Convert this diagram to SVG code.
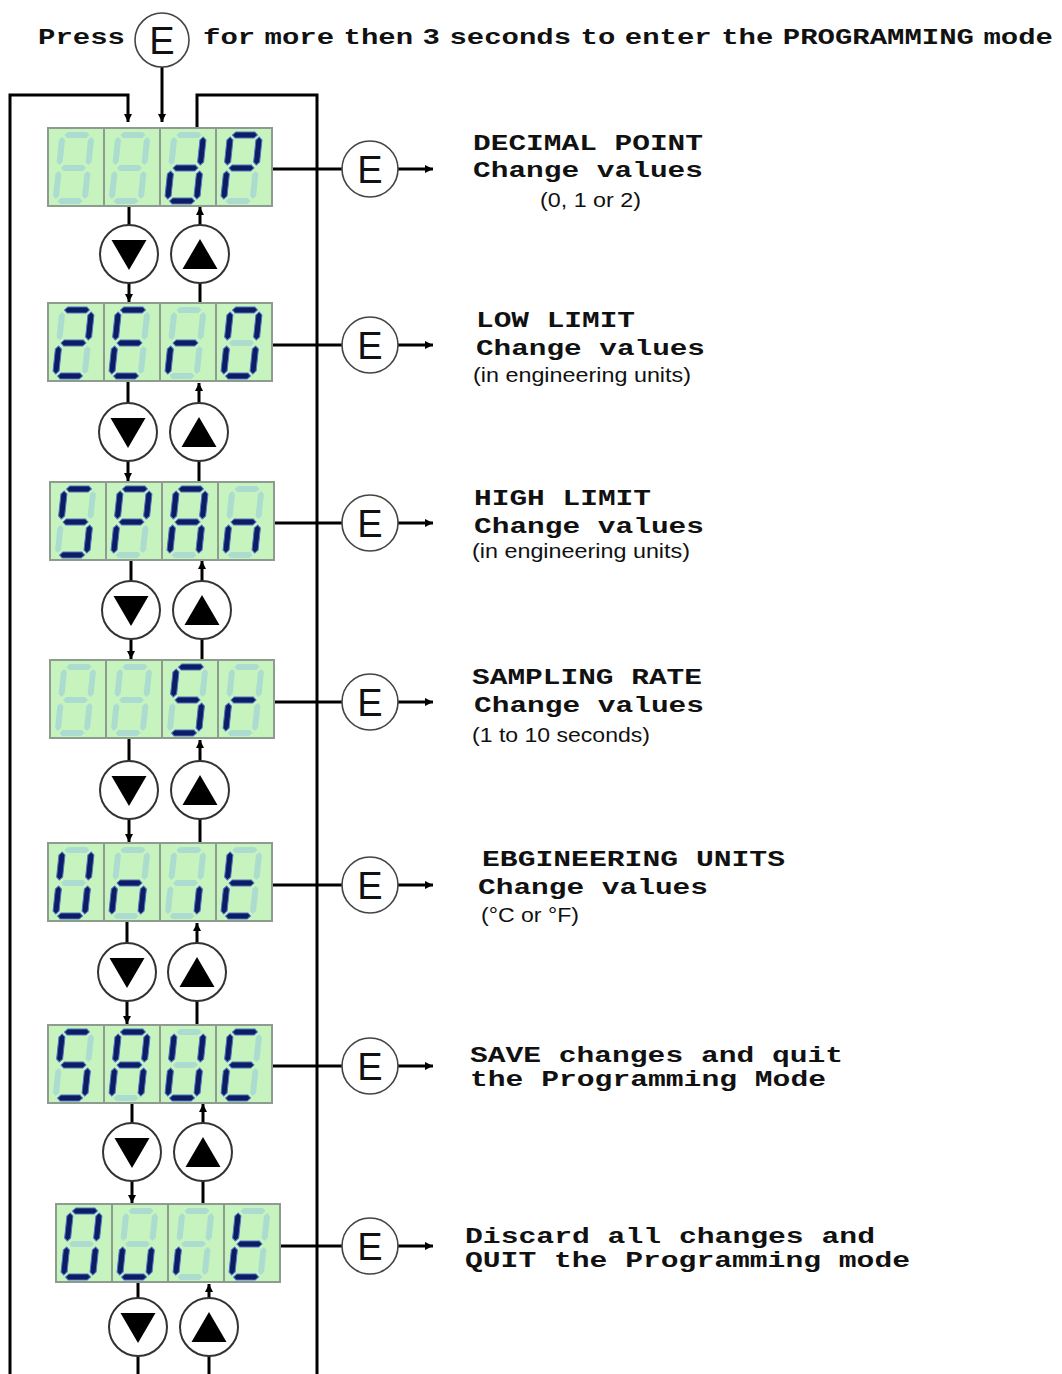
<svg xmlns="http://www.w3.org/2000/svg" xmlns:xlink="http://www.w3.org/1999/xlink" width="1062" height="1374" viewBox="0 0 1062 1374">
<style>
.b{font-family:'Liberation Mono','DejaVu Sans Mono',monospace;font-weight:bold;font-size:22px;fill:#111}
.r{font-family:'Liberation Sans',Arial,sans-serif;font-size:21px;fill:#111}
.et{font-family:'Liberation Sans',Arial,sans-serif;font-size:38px;fill:#111;text-anchor:middle}
.cell{fill:#c7f3bf;stroke:#8e9c90;stroke-width:2}
.off{fill:#acdcd0}
.on{fill:#0e1d63;stroke:#4f76c6;stroke-width:1}
.ln{stroke:#000;stroke-width:3;fill:none}
.btn{fill:#fff;stroke:#333;stroke-width:2}
.ebtn{fill:#fff;stroke:#444;stroke-width:1.6}
</style>
<defs>
<marker id="ah" viewBox="0 0 10 10" refX="10" refY="5" markerWidth="9" markerHeight="8" orient="auto" markerUnits="userSpaceOnUse"><path d="M0,0 L10,5 L0,10z" fill="#000"/></marker>
<path id="sa" d="M13,-33 l3,-3 h19 l3,3 l-3,3 h-19z"/>
<path id="sg" d="M13,0 l3,-3 h19 l3,3 l-3,3 h-19z"/>
<path id="sd" d="M13,33 l3,-3 h19 l3,3 l-3,3 h-19z"/>
<path id="sf" d="M11,-31 l3,3 v22 l-3,3 l-3,-3 v-22z"/>
<path id="sb" d="M40,-31 l3,3 v22 l-3,3 l-3,-3 v-22z"/>
<path id="se" d="M11,3 l3,3 v22 l-3,3 l-3,-3 v-22z"/>
<path id="sc" d="M40,3 l3,3 v22 l-3,3 l-3,-3 v-22z"/>
<g id="blank"><use href="#sa" class="off"/><use href="#sb" class="off"/><use href="#sc" class="off"/><use href="#sd" class="off"/><use href="#se" class="off"/><use href="#sf" class="off"/><use href="#sg" class="off"/></g>
<g id="ch-d"><use href="#blank"/><use href="#sb" class="on"/><use href="#sc" class="on"/><use href="#sd" class="on"/><use href="#se" class="on"/><use href="#sg" class="on"/></g>
<g id="ch-P"><use href="#blank"/><use href="#sa" class="on"/><use href="#sb" class="on"/><use href="#sf" class="on"/><use href="#sg" class="on"/><use href="#se" class="on"/></g>
<g id="ch-2"><use href="#blank"/><use href="#sa" class="on"/><use href="#sb" class="on"/><use href="#sg" class="on"/><use href="#se" class="on"/><use href="#sd" class="on"/></g>
<g id="ch-E"><use href="#blank"/><use href="#sa" class="on"/><use href="#sf" class="on"/><use href="#sg" class="on"/><use href="#se" class="on"/><use href="#sd" class="on"/></g>
<g id="ch-r"><use href="#blank"/><use href="#sg" class="on"/><use href="#se" class="on"/></g>
<g id="ch-0"><use href="#blank"/><use href="#sa" class="on"/><use href="#sb" class="on"/><use href="#sc" class="on"/><use href="#sd" class="on"/><use href="#se" class="on"/><use href="#sf" class="on"/></g>
<g id="ch-S"><use href="#blank"/><use href="#sa" class="on"/><use href="#sf" class="on"/><use href="#sg" class="on"/><use href="#sc" class="on"/><use href="#sd" class="on"/></g>
<g id="ch-A"><use href="#blank"/><use href="#sa" class="on"/><use href="#sb" class="on"/><use href="#sc" class="on"/><use href="#se" class="on"/><use href="#sf" class="on"/><use href="#sg" class="on"/></g>
<g id="ch-n"><use href="#blank"/><use href="#sg" class="on"/><use href="#se" class="on"/><use href="#sc" class="on"/></g>
<g id="ch-U"><use href="#blank"/><use href="#sb" class="on"/><use href="#sc" class="on"/><use href="#sd" class="on"/><use href="#se" class="on"/><use href="#sf" class="on"/></g>
<g id="ch-i"><use href="#blank"/><use href="#sc" class="on"/></g>
<g id="ch-t"><use href="#blank"/><use href="#sf" class="on"/><use href="#sg" class="on"/><use href="#se" class="on"/><use href="#sd" class="on"/></g>
<g id="ch-u"><use href="#blank"/><use href="#sc" class="on"/><use href="#sd" class="on"/><use href="#se" class="on"/></g>
<g id="ch-I"><use href="#blank"/><use href="#se" class="on"/></g>
<g id="cells"><rect class="cell" x="0" y="0" width="56" height="78"/><rect class="cell" x="56" y="0" width="56" height="78"/><rect class="cell" x="112" y="0" width="56" height="78"/><rect class="cell" x="168" y="0" width="56" height="78"/></g>
</defs>
<rect width="1062" height="1374" fill="#fff"/>

<g id="connectors">
<line class="ln" x1="162" y1="67" x2="162" y2="122" marker-end="url(#ah)"/>
<polyline class="ln" points="10,1374 10,95 128,95 128,122" marker-end="url(#ah)"/>
<polyline class="ln" points="197,127 197,95 317,95 317,1374"/>
<line class="ln" x1="129" y1="206" x2="129" y2="225"/><line class="ln" x1="129" y1="283" x2="129" y2="302" marker-end="url(#ah)"/>
<line class="ln" x1="200" y1="303" x2="200" y2="283"/><line class="ln" x1="200" y1="225" x2="200" y2="207" marker-end="url(#ah)"/>
<line class="ln" x1="128" y1="382" x2="128" y2="403"/><line class="ln" x1="128" y1="461" x2="128" y2="481" marker-end="url(#ah)"/>
<line class="ln" x1="199" y1="482" x2="199" y2="461"/><line class="ln" x1="199" y1="403" x2="199" y2="383" marker-end="url(#ah)"/>
<line class="ln" x1="131" y1="560" x2="131" y2="581"/><line class="ln" x1="131" y1="639" x2="131" y2="659" marker-end="url(#ah)"/>
<line class="ln" x1="202" y1="660" x2="202" y2="639"/><line class="ln" x1="202" y1="581" x2="202" y2="561" marker-end="url(#ah)"/>
<line class="ln" x1="129" y1="739" x2="129" y2="761"/><line class="ln" x1="129" y1="819" x2="129" y2="842" marker-end="url(#ah)"/>
<line class="ln" x1="200" y1="843" x2="200" y2="819"/><line class="ln" x1="200" y1="761" x2="200" y2="740" marker-end="url(#ah)"/>
<line class="ln" x1="127" y1="922" x2="127" y2="943"/><line class="ln" x1="127" y1="1001" x2="127" y2="1024" marker-end="url(#ah)"/>
<line class="ln" x1="197" y1="1025" x2="197" y2="1001"/><line class="ln" x1="197" y1="943" x2="197" y2="923" marker-end="url(#ah)"/>
<line class="ln" x1="132" y1="1103" x2="132" y2="1123"/><line class="ln" x1="132" y1="1181" x2="132" y2="1203" marker-end="url(#ah)"/>
<line class="ln" x1="203" y1="1204" x2="203" y2="1181"/><line class="ln" x1="203" y1="1123" x2="203" y2="1104" marker-end="url(#ah)"/>
<line class="ln" x1="138" y1="1283" x2="138" y2="1298"/><line class="ln" x1="138" y1="1356" x2="138" y2="1374"/>
<line class="ln" x1="209" y1="1374" x2="209" y2="1356"/><line class="ln" x1="209" y1="1298" x2="209" y2="1284" marker-end="url(#ah)"/>
<line class="ln" x1="273" y1="169" x2="342" y2="169"/><line class="ln" x1="398" y1="169" x2="433" y2="169" marker-end="url(#ah)"/>
<line class="ln" x1="273" y1="345" x2="342" y2="345"/><line class="ln" x1="398" y1="345" x2="433" y2="345" marker-end="url(#ah)"/>
<line class="ln" x1="273" y1="523" x2="342" y2="523"/><line class="ln" x1="398" y1="523" x2="433" y2="523" marker-end="url(#ah)"/>
<line class="ln" x1="272" y1="702" x2="342" y2="702"/><line class="ln" x1="398" y1="702" x2="433" y2="702" marker-end="url(#ah)"/>
<line class="ln" x1="273" y1="885" x2="342" y2="885"/><line class="ln" x1="398" y1="885" x2="433" y2="885" marker-end="url(#ah)"/>
<line class="ln" x1="273" y1="1066" x2="342" y2="1066"/><line class="ln" x1="398" y1="1066" x2="433" y2="1066" marker-end="url(#ah)"/>
<line class="ln" x1="280" y1="1246" x2="342" y2="1246"/><line class="ln" x1="398" y1="1246" x2="433" y2="1246" marker-end="url(#ah)"/>
</g>

<g id="title">
<text class="b" x="38" y="44" font-size="21" textLength="87" lengthAdjust="spacingAndGlyphs">Press</text>
<text class="b" x="203" y="44" font-size="21" word-spacing="-6" textLength="850" lengthAdjust="spacingAndGlyphs">for more then 3 seconds to enter the PROGRAMMING mode</text>
</g>
<g id="btn-start"><circle class="ebtn" cx="162" cy="40" r="27"/><text class="et" x="162" y="54">E</text></g>

<g id="disp-dP" transform="translate(48,128)"><use href="#cells"/>
<use href="#blank" transform="translate(0,40) skewX(-6)"/><use href="#blank" transform="translate(56,40) skewX(-6)"/><use href="#ch-d" transform="translate(112,40) skewX(-6)"/><use href="#ch-P" transform="translate(168,40) skewX(-6)"/></g>
<g id="disp-zero" transform="translate(48,303)"><use href="#cells"/>
<use href="#ch-2" transform="translate(0,40) skewX(-6)"/><use href="#ch-E" transform="translate(56,40) skewX(-6)"/><use href="#ch-r" transform="translate(112,40) skewX(-6)"/><use href="#ch-0" transform="translate(168,40) skewX(-6)"/></g>
<g id="disp-span" transform="translate(50,482)"><use href="#cells"/>
<use href="#ch-S" transform="translate(0,40) skewX(-6)"/><use href="#ch-P" transform="translate(56,40) skewX(-6)"/><use href="#ch-A" transform="translate(112,40) skewX(-6)"/><use href="#ch-n" transform="translate(168,40) skewX(-6)"/></g>
<g id="disp-sr" transform="translate(50,660)"><use href="#cells"/>
<use href="#blank" transform="translate(0,40) skewX(-6)"/><use href="#blank" transform="translate(56,40) skewX(-6)"/><use href="#ch-S" transform="translate(112,40) skewX(-6)"/><use href="#ch-r" transform="translate(168,40) skewX(-6)"/></g>
<g id="disp-unit" transform="translate(48,843)"><use href="#cells"/>
<use href="#ch-U" transform="translate(0,40) skewX(-6)"/><use href="#ch-n" transform="translate(56,40) skewX(-6)"/><use href="#ch-i" transform="translate(112,40) skewX(-6)"/><use href="#ch-t" transform="translate(168,40) skewX(-6)"/></g>
<g id="disp-save" transform="translate(48,1025)"><use href="#cells"/>
<use href="#ch-S" transform="translate(0,40) skewX(-6)"/><use href="#ch-A" transform="translate(56,40) skewX(-6)"/><use href="#ch-U" transform="translate(112,40) skewX(-6)"/><use href="#ch-E" transform="translate(168,40) skewX(-6)"/></g>
<g id="disp-quit" transform="translate(56,1204)"><use href="#cells"/>
<use href="#ch-0" transform="translate(0,40) skewX(-6)"/><use href="#ch-u" transform="translate(56,40) skewX(-6)"/><use href="#ch-I" transform="translate(112,40) skewX(-6)"/><use href="#ch-t" transform="translate(168,40) skewX(-6)"/></g>

<g id="nav-1"><circle class="btn" cx="129" cy="254" r="29"/><path d="M111.5,240 h35 l-17.5,30z"/><circle class="btn" cx="200" cy="254" r="29"/><path d="M200,239 l17.5,30 h-35z"/></g>
<g id="nav-2"><circle class="btn" cx="128" cy="432" r="29"/><path d="M110.5,418 h35 l-17.5,30z"/><circle class="btn" cx="199" cy="432" r="29"/><path d="M199,417 l17.5,30 h-35z"/></g>
<g id="nav-3"><circle class="btn" cx="131" cy="610" r="29"/><path d="M113.5,596 h35 l-17.5,30z"/><circle class="btn" cx="202" cy="610" r="29"/><path d="M202,595 l17.5,30 h-35z"/></g>
<g id="nav-4"><circle class="btn" cx="129" cy="790" r="29"/><path d="M111.5,776 h35 l-17.5,30z"/><circle class="btn" cx="200" cy="790" r="29"/><path d="M200,775 l17.5,30 h-35z"/></g>
<g id="nav-5"><circle class="btn" cx="127" cy="972" r="29"/><path d="M109.5,958 h35 l-17.5,30z"/><circle class="btn" cx="197" cy="972" r="29"/><path d="M197,957 l17.5,30 h-35z"/></g>
<g id="nav-6"><circle class="btn" cx="132" cy="1152" r="29"/><path d="M114.5,1138 h35 l-17.5,30z"/><circle class="btn" cx="203" cy="1152" r="29"/><path d="M203,1137 l17.5,30 h-35z"/></g>
<g id="nav-7"><circle class="btn" cx="138" cy="1327" r="29"/><path d="M120.5,1313 h35 l-17.5,30z"/><circle class="btn" cx="209" cy="1327" r="29"/><path d="M209,1312 l17.5,30 h-35z"/></g>

<g id="e-1"><circle class="ebtn" cx="370" cy="169" r="28"/><text class="et" x="370" y="183">E</text></g>
<g id="e-2"><circle class="ebtn" cx="370" cy="345" r="28"/><text class="et" x="370" y="359">E</text></g>
<g id="e-3"><circle class="ebtn" cx="370" cy="523" r="28"/><text class="et" x="370" y="537">E</text></g>
<g id="e-4"><circle class="ebtn" cx="370" cy="702" r="28"/><text class="et" x="370" y="716">E</text></g>
<g id="e-5"><circle class="ebtn" cx="370" cy="885" r="28"/><text class="et" x="370" y="899">E</text></g>
<g id="e-6"><circle class="ebtn" cx="370" cy="1066" r="28"/><text class="et" x="370" y="1080">E</text></g>
<g id="e-7"><circle class="ebtn" cx="370" cy="1246" r="28"/><text class="et" x="370" y="1260">E</text></g>

<g id="label-1">
<text class="b" x="473" y="150" textLength="230" lengthAdjust="spacingAndGlyphs">DECIMAL POINT</text>
<text class="b" x="473" y="177" textLength="230" lengthAdjust="spacingAndGlyphs">Change values</text>
<text class="r" x="540" y="207" textLength="101" lengthAdjust="spacingAndGlyphs">(0, 1 or 2)</text>
</g>
<g id="label-2">
<text class="b" x="476" y="327" textLength="159" lengthAdjust="spacingAndGlyphs">LOW LIMIT</text>
<text class="b" x="476" y="355" textLength="229" lengthAdjust="spacingAndGlyphs">Change values</text>
<text class="r" x="473" y="382" textLength="218" lengthAdjust="spacingAndGlyphs">(in engineering units)</text>
</g>
<g id="label-3">
<text class="b" x="474" y="505" textLength="177" lengthAdjust="spacingAndGlyphs">HIGH LIMIT</text>
<text class="b" x="474" y="533" textLength="230" lengthAdjust="spacingAndGlyphs">Change values</text>
<text class="r" x="472" y="558" textLength="218" lengthAdjust="spacingAndGlyphs">(in engineering units)</text>
</g>
<g id="label-4">
<text class="b" x="472" y="684" textLength="230" lengthAdjust="spacingAndGlyphs">SAMPLING RATE</text>
<text class="b" x="474" y="712" textLength="230" lengthAdjust="spacingAndGlyphs">Change values</text>
<text class="r" x="472" y="742" textLength="178" lengthAdjust="spacingAndGlyphs">(1 to 10 seconds)</text>
</g>
<g id="label-5">
<text class="b" x="482" y="866" textLength="303" lengthAdjust="spacingAndGlyphs">EBGINEERING UNITS</text>
<text class="b" x="478" y="894" textLength="230" lengthAdjust="spacingAndGlyphs">Change values</text>
<text class="r" x="481" y="922" textLength="98" lengthAdjust="spacingAndGlyphs">(°C or °F)</text>
</g>
<g id="label-6">
<text class="b" x="470" y="1062" textLength="373" lengthAdjust="spacingAndGlyphs">SAVE changes and quit</text>
<text class="b" x="470" y="1086" textLength="356" lengthAdjust="spacingAndGlyphs">the Programming Mode</text>
</g>
<g id="label-7">
<text class="b" x="465" y="1243" textLength="410" lengthAdjust="spacingAndGlyphs">Discard all changes and</text>
<text class="b" x="465" y="1267" textLength="445" lengthAdjust="spacingAndGlyphs">QUIT the Programming mode</text>
</g>
</svg>
